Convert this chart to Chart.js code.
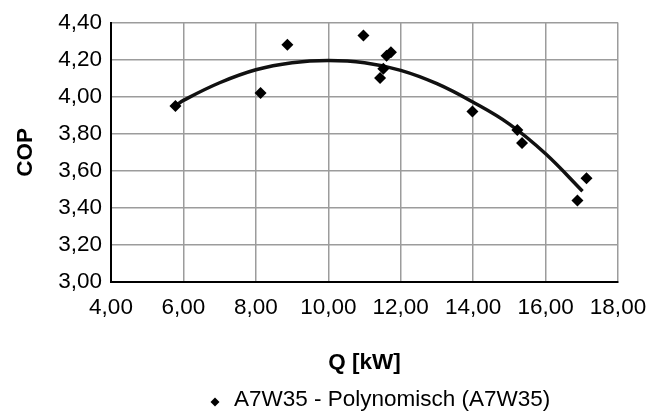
<!DOCTYPE html>
<html>
<head>
<meta charset="utf-8">
<script src="https://cdn.jsdelivr.net/npm/chart.js@4/dist/chart.umd.min.js"></script>
<style>
  html, body { margin: 0; padding: 0; background: #ffffff; }
  #wrap { width: 664px; height: 419px; position: relative; }
</style>
</head>
<body>
<div id="wrap"><canvas id="c" width="664" height="419"></canvas></div>
<script>
// Measured points (Q in kW, COP)
const Q   = [5.78, 8.13, 8.87, 10.97, 11.43, 11.52, 11.61, 11.73, 13.98, 15.22, 15.35, 16.88, 17.13];
const COP = [3.95, 4.02, 4.28, 4.33, 4.10, 4.15, 4.22, 4.24, 3.92, 3.82, 3.75, 3.44, 3.56];

// Polynomial trendline
const trendQ   = [5.82, 6.00, 7.00, 8.00, 9.00, 10.00, 11.00, 12.00, 13.00, 14.00, 15.00, 16.00, 17.02];
const trendCOP = [3.955, 3.98, 4.075, 4.145, 4.183, 4.195, 4.183, 4.142, 4.07, 3.97, 3.852, 3.692, 3.49];

const xTickLabels = ['4,00', '6,00', '8,00', '10,00', '12,00', '14,00', '16,00', '18,00'];
const yTickLabels = ['3,00', '3,20', '3,40', '3,60', '3,80', '4,00', '4,20', '4,40'];

const seriesName = 'A7W35';
const legendText = 'A7W35 - Polynomisch (A7W35)';
const xTitle = 'Q [kW]';
const yTitle = 'COP';

const FONT = "'Liberation Sans', Arial, sans-serif";

const points = Q.map((q, i) => ({ x: q, y: COP[i] }));
const trend = trendQ.map((q, i) => ({ x: q, y: trendCOP[i] }));

const legendPlugin = {
  id: 'customLegend',
  afterDraw(chart) {
    const ctx = chart.ctx;
    ctx.save();
    const mx = 215, my = 402, r = 4.5;
    ctx.fillStyle = '#000000';
    ctx.beginPath();
    ctx.moveTo(mx, my - r);
    ctx.lineTo(mx + r, my);
    ctx.lineTo(mx, my + r);
    ctx.lineTo(mx - r, my);
    ctx.closePath();
    ctx.fill();
    ctx.font = '22.5px ' + FONT;
    ctx.textBaseline = 'middle';
    ctx.textAlign = 'left';
    ctx.fillStyle = '#000000';
    ctx.fillText(legendText, 234, 400);
    ctx.restore();
  }
};

new Chart(document.getElementById('c'), {
  type: 'scatter',
  data: {
    datasets: [
      {
        label: seriesName,
        data: points,
        pointStyle: 'rectRot',
        pointRadius: 6,
        pointHoverRadius: 6,
        backgroundColor: '#000000',
        borderColor: '#000000',
        borderWidth: 0,
        showLine: false
      },
      {
        label: 'Polynomisch (' + seriesName + ')',
        data: trend,
        showLine: true,
        pointRadius: 0,
        borderColor: '#111111',
        borderWidth: 3.5,
        tension: 0.4,
        fill: false
      }
    ]
  },
  options: {
    responsive: false,
    animation: false,
    devicePixelRatio: 1,
    layout: { padding: { left: 0, right: 46, top: 22, bottom: 43 } },
    plugins: {
      legend: { display: false },
      tooltip: { enabled: false },
      title: { display: false }
    },
    scales: {
      x: {
        type: 'linear',
        min: 4, max: 18,
        ticks: {
          stepSize: 2,
          padding: 12,
          color: '#000000',
          font: { family: FONT, size: 22.5 },
          callback: (v) => xTickLabels[Math.round((v - 4) / 2)]
        },
        grid: { color: '#9c9c9c', lineWidth: 1.5, drawTicks: false },
        border: { color: '#000000', width: 2 },
        title: {
          display: true, text: xTitle, color: '#000000',
          font: { family: FONT, size: 22.5, weight: 'bold' },
          padding: { top: 0, bottom: 0 }
        },
        afterFit: (s) => { s.height = 94; }
      },
      y: {
        type: 'linear',
        min: 3, max: 4.4,
        ticks: {
          stepSize: 0.2,
          padding: 9,
          color: '#000000',
          font: { family: FONT, size: 22.5 },
          callback: (v) => yTickLabels[Math.round((v - 3) / 0.2)]
        },
        grid: { color: '#9c9c9c', lineWidth: 1.5, drawTicks: false },
        border: { color: '#000000', width: 2 },
        title: {
          display: true, text: yTitle, color: '#000000',
          font: { family: FONT, size: 22.5, weight: 'bold' },
          padding: { top: 12, bottom: 0 }
        },
        afterFit: (s) => { s.width = 111; }
      }
    }
  },
  plugins: [legendPlugin]
});
</script>
</body>
</html>
